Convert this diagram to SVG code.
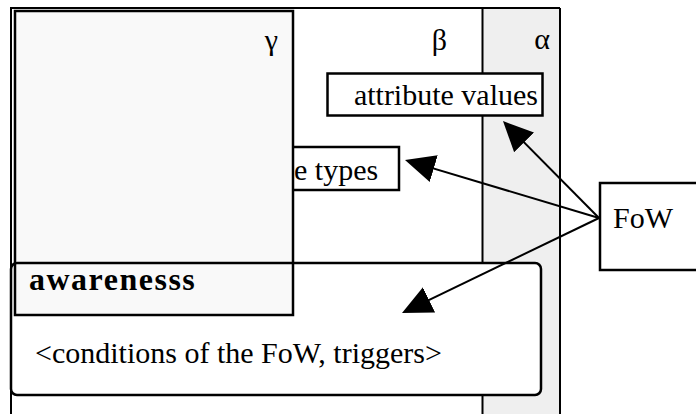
<svg xmlns="http://www.w3.org/2000/svg" width="696" height="414" viewBox="0 0 696 414">
<style>
  .t { font-family: "Liberation Serif", "Times New Roman", serif; font-size: 30px; fill: #000; }
  .b { font-weight: bold; font-size: 32px; letter-spacing: 1.5px; }
  .box { stroke: #000; stroke-width: 2.5; }
  .ln { stroke: #000; stroke-width: 2; fill: none; }
</style>
<defs>
  <marker id="ah" markerUnits="userSpaceOnUse" markerWidth="30" markerHeight="30" viewBox="0 0 30 30" refX="25" refY="15" orient="auto">
    <path d="M0,1 L30,15 L0,29 z" fill="#000"/>
  </marker>
</defs>
<rect width="696" height="414" fill="#fff"/>
<g id="alpha">
  <rect x="483" y="8" width="77" height="406" fill="#efefef"/>
  <line class="ln" x1="560" y1="8" x2="560" y2="414"/>
  <text class="t" x="550" y="49" text-anchor="end">α</text>
</g>
<g id="beta">
  <path class="ln" d="M11,414 V8 H560"/>
  <line class="ln" x1="482.5" y1="8" x2="482.5" y2="414"/>
  <text class="t" x="447" y="50" text-anchor="end">β</text>
</g>
<g id="attribute-values">
  <rect class="box" x="327.5" y="73.5" width="215" height="42" fill="#fff"/>
  <text class="t" x="538" y="105" text-anchor="end">attribute values</text>
</g>
<g id="attribute-types">
  <rect class="box" x="280" y="147" width="119" height="43" fill="#fff"/>
  <text class="t" x="294" y="180">e types</text>
</g>
<rect x="11" y="263" width="530" height="132" rx="6" fill="#fff"/>
<g id="gamma">
  <rect class="box" x="15" y="11" width="278" height="304" fill="#f9f9f9"/>
  <text class="t" x="278" y="50" text-anchor="end">γ</text>
</g>
<g id="awareness">
  <rect class="box" x="11" y="263" width="530" height="132" rx="6" fill="none"/>
  <text class="t b" x="29" y="290">awarenesss</text>
  <text class="t" x="35" y="363">&lt;conditions of the FoW, triggers&gt;</text>
</g>
<g id="fow">
  <rect class="box" x="600" y="183" width="110" height="87" fill="#fff"/>
  <text class="t" x="613" y="228">FoW</text>
</g>
<g id="connectors">
  <line class="ln" x1="599" y1="218" x2="506.5" y2="124.6" marker-end="url(#ah)"/>
  <line class="ln" x1="599" y1="218" x2="409.8" y2="161.4" marker-end="url(#ah)"/>
  <line class="ln" x1="599" y1="218" x2="406.5" y2="310.8" marker-end="url(#ah)"/>
</g>
</svg>
